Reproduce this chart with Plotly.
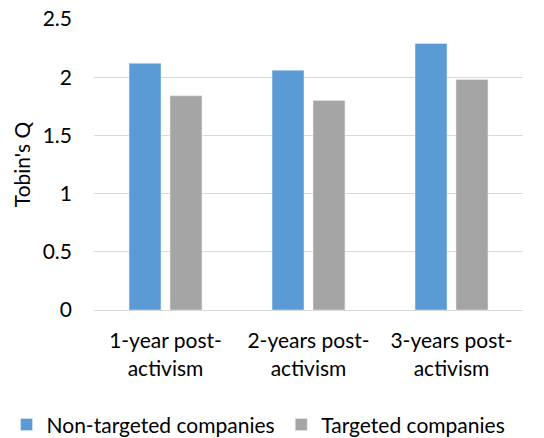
import plotly.graph_objects as go

# Tobin's Q after activism
categories = ["1-year post-<br>activism", "2-years post-<br>activism", "3-years post-<br>activism"]
non_targeted = [2.12, 2.06, 2.29]
targeted = [1.84, 1.80, 1.98]
y_ticks = [0, 0.5, 1, 1.5, 2, 2.5]

FONT = "Lato"
FS = 21
W, H = 544, 438

fig = go.Figure()
fig.add_trace(go.Bar(x=categories, y=non_targeted, name="Non-targeted companies",
                     marker_color="#5B9BD5", legend="legend", showlegend=True))
fig.add_trace(go.Bar(x=categories, y=targeted, name="Targeted companies",
                     marker_color="#A5A5A5", legend="legend2", showlegend=True))

# one legend per series so both sit on one row like the original
leg = dict(orientation="h", xref="container", yref="container",
           xanchor="left", y=0.03, yanchor="middle", font=dict(size=FS),
           bgcolor="rgba(0,0,0,0)", visible=True)
fig.update_layout(
    width=W, height=H,
    margin=dict(l=94, r=21, t=19, b=128),
    paper_bgcolor="white", plot_bgcolor="white",
    barmode="group", bargap=0.427, bargroupgap=0.22,
    font=dict(family=FONT, size=FS, color="black"),
    showlegend=True,
    legend=dict(leg, x=0.012),
    legend2=dict(leg, x=0.517),
)
fig.update_yaxes(range=[0, 2.5], tickvals=y_ticks, ticktext=[f"{v:g}" for v in y_ticks],
                 showgrid=True, gridcolor="#D9D9D9",
                 gridwidth=1, zeroline=False, showline=False, ticks="",
                 automargin=False, ticklabelstandoff=21, ticklabeloverflow="allow",
                 title=dict(text="Tobin's Q", font=dict(size=FS), standoff=6))
fig.update_xaxes(showline=True, linecolor="#D9D9D9", linewidth=1, ticks="",
                 automargin=False, ticklabelstandoff=12, tickfont=dict(size=FS))

# drop the browser's default 8px body margin so the figure fills the window
fig.write_html("out.html", config={"displayModeBar": False},
               post_script="document.body.style.margin='0';")
